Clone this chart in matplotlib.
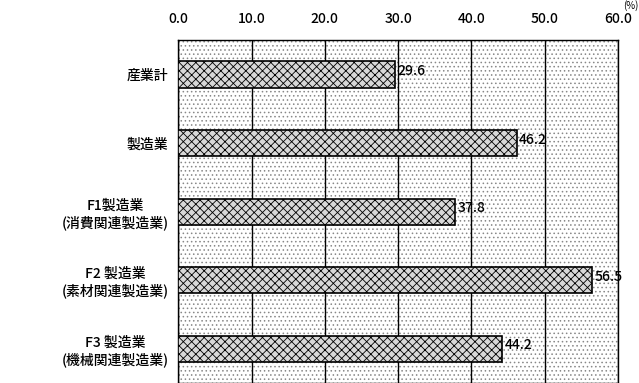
import matplotlib
matplotlib.use('Agg')
import matplotlib.pyplot as plt
from matplotlib.patches import Rectangle

plt.rcParams['font.family'] = ['Noto Sans CJK JP', 'DejaVu Sans']
plt.rcParams['hatch.linewidth'] = 0.6

categories = ['産業計', '製造業', 'F1製造業\n(消費関連製造業)',
              'F2 製造業\n(素材関連製造業)', 'F3 製造業\n(機械関連製造業)']
values = [29.6, 46.2, 37.8, 56.5, 44.2]
xticks = [0, 10, 20, 30, 40, 50, 60]

fig = plt.figure(figsize=(6.39, 3.83), dpi=100)
ax = fig.add_axes([0.279, 0.0, 0.688, 0.895])

# stippled background
ax.add_patch(Rectangle((0, 0), 1, 1, transform=ax.transAxes, facecolor='white',
                       edgecolor='#888888', hatch='....', linewidth=0, zorder=0))

ypos = list(range(len(categories)))
bars = ax.barh(ypos, values, height=0.38, color='#d8d8d8', edgecolor='black',
               hatch='xxxx', linewidth=1.2, zorder=3)

for y, v in zip(ypos, values):
    ax.text(v + 0.3, y - 0.05, '%.1f' % v, va='center', ha='left', fontsize=10,
            fontweight='medium', zorder=4)

ax.set_xlim(0, 60)
ax.set_ylim(len(categories) - 0.5, -0.5)
ax.set_xticks(xticks)
ax.set_xticklabels(['%.1f' % t for t in xticks], fontsize=10, fontweight='medium')
ax.xaxis.tick_top()
ax.tick_params(axis='x', length=0, pad=10)
ax.set_yticks(ypos)
ax.set_yticklabels(categories, fontsize=10, fontweight='medium',
                   multialignment='center')
ax.tick_params(axis='y', length=0, pad=7)
ax.grid(axis='x', color='black', linewidth=1.0, zorder=1)
for s in ax.spines.values():
    s.set_linewidth(1.0)

fig.text(0.999, 1.0, '(%)', fontsize=7, ha='right', va='top')

fig.savefig('out.png', dpi=100)
